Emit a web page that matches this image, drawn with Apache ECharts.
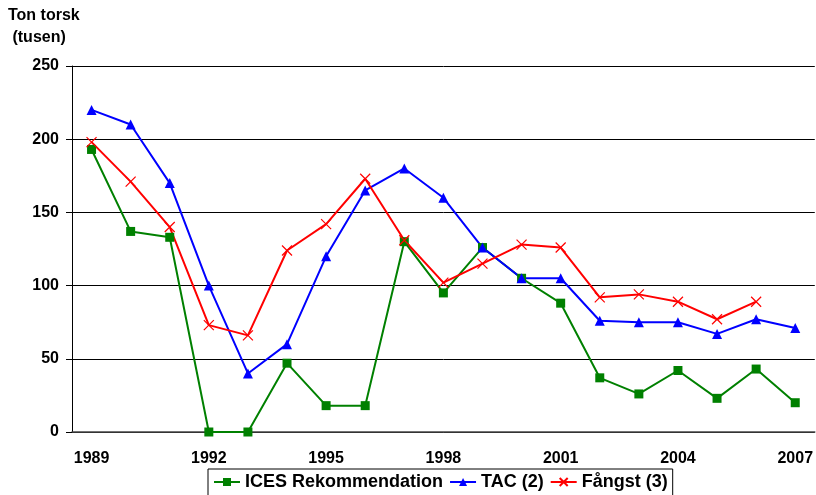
<!doctype html>
<html>
<head>
<meta charset="UTF-8">
<title>Ton torsk</title>
<script src="https://cdn.jsdelivr.net/npm/echarts@6/dist/echarts.min.js"></script>
<style>
  html, body { margin: 0; padding: 0; background: #fff; }
  #main { width: 816px; height: 495px; }
</style>
</head>
<body>
<div id="main"></div>
<script>
var years = ['1989', '1990', '1991', '1992', '1993', '1994', '1995', '1996', '1997', '1998',
             '1999', '2000', '2001', '2002', '2003', '2004', '2005', '2006', '2007'];
var ices = [193, 137, 133, 0, 0, 47, 18, 18, 130, 95, 126, 105, 88, 37, 26, 42, 23, 43, 20];
var tac = [220, 210, 170, 100, 40, 60, 120, 165, 180, 160, 126, 105, 105, 76, 75, 75, 67, 77, 71];
var fangst = [198, 171, 140, 73, 66, 124, 142, 173, 131, 102, 115, 128, 126, 92, 94, 89, 77, 89, null];

var font = 'Liberation Sans, Arial, sans-serif';
var chart = echarts.init(document.getElementById('main'));

var option = {
    animation: false,
    title: {
        text: 'Ton torsk\n (tusen)',
        left: 8,
        top: 5,
        padding: 0,
        textStyle: { fontFamily: font, fontSize: 16, fontWeight: 'bold', color: '#000', lineHeight: 22 }
    },
    legend: {
        left: 208,
        top: 469,
        padding: [4, 5, 6, 5],
        borderColor: '#000',
        borderWidth: 1,
        itemWidth: 26,
        itemHeight: 10,
        itemGap: 6,
        textStyle: { fontFamily: font, fontSize: 18, fontWeight: 'bold', color: '#000' },
        data: ['ICES Rekommendation', 'TAC (2)', 'Fångst (3)']
    },
    grid: { left: 72, right: 0, top: 66, bottom: 63, containLabel: false },
    xAxis: {
        type: 'category',
        data: years,
        boundaryGap: true,
        axisLine: { lineStyle: { color: '#444', width: 1.5 } },
        axisTick: { interval: 0, length: 5, lineStyle: { color: '#444' } },
        axisLabel: {
            interval: 2,
            margin: 19,
            fontFamily: font, fontSize: 16, fontWeight: 'bold', color: '#000'
        }
    },
    yAxis: {
        type: 'value',
        min: 0,
        max: 250,
        interval: 50,
        axisLine: { show: true, lineStyle: { color: '#000' } },
        axisTick: { show: true, length: 6, lineStyle: { color: '#000' } },
        axisLabel: { margin: 13, fontFamily: font, fontSize: 16, fontWeight: 'bold', color: '#000' },
        splitLine: { lineStyle: { color: '#000', width: 1 } }
    },
    series: [
        {
            name: 'ICES Rekommendation',
            type: 'line',
            data: ices,
            symbol: 'rect',
            symbolSize: 9,
            lineStyle: { color: '#008000', width: 2 },
            itemStyle: { color: '#008000' }
        },
        {
            name: 'TAC (2)',
            type: 'line',
            data: tac,
            symbol: 'triangle',
            symbolSize: 10,
            lineStyle: { color: '#0000ff', width: 2 },
            itemStyle: { color: '#0000ff' }
        },
        {
            name: 'Fångst (3)',
            type: 'line',
            data: fangst,
            symbol: 'path://M0,0L10,10M10,0L0,10',
            symbolSize: 10,
            lineStyle: { color: '#ff0000', width: 2 },
            itemStyle: { color: '#ff0000', borderColor: '#ff0000', borderWidth: 1.2 }
        }
    ]
};

chart.setOption(option);
</script>
</body>
</html>
